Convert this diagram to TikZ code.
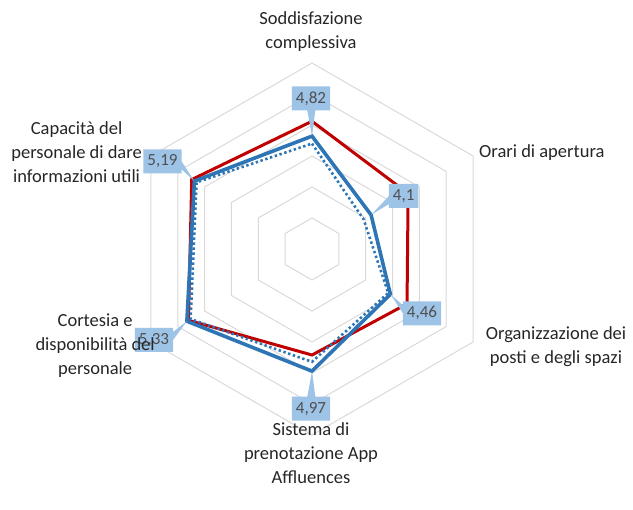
\documentclass[tikz,border=0pt]{standalone}
\usepackage{fontspec}
\setmainfont{Carlito}
\usepackage{xcolor}
\usetikzlibrary{shapes.callouts}
\definecolor{rdred}{HTML}{C00000}
\definecolor{rdblue}{HTML}{2E75B6}
\definecolor{rdbox}{HTML}{9DC3E6}
\definecolor{rdgrid}{HTML}{D9D9D9}
\definecolor{rdtext}{HTML}{262626}
\definecolor{rdval}{HTML}{4F4F4F}

\begin{document}
\begin{tikzpicture}[x=1pt,y=1pt]
        \tikzset{
        rd ring/.style={draw=rdgrid,line width=1pt},
        rd red/.style={draw=rdred,line width=3pt,line join=miter},
        rd blue/.style={draw=rdblue,line width=3.6pt,line join=miter},
        rd dots/.style={draw=rdblue,line width=2.6pt,dash pattern=on 2.4pt off 2.6pt},
        rd cat/.style={text=rdtext,align=center,inner sep=0,font=\fontsize{18.5}{24}\selectfont},
        rd val/.style={rectangle callout,fill=rdbox,text=rdval,inner xsep=4pt,inner ysep=0pt,
            minimum height=24pt,callout pointer width=8pt,
            font=\fontsize{17}{17}\selectfont}
        }
        \useasboundingbox (0,0) rectangle (633,510);
        \coordinate (O) at (312,261);

        % grid
        \foreach \r in {31,62,...,186}
            \draw[rd ring,shift={(O)}] (90:\r) -- (30:\r) -- (-30:\r) -- (-90:\r) -- (210:\r) -- (150:\r) -- cycle;

        % series points
        \begin{scope}[shift={(O)}]
        \foreach \v [count=\i] in {5.06,4.79,4.77,4.71,5.30,5.24}
            \coordinate (r\i) at ({150-60*\i}:{(\v-3)*62});
        \foreach \v [count=\i] in {4.70,3.96,4.42,4.82,5.26,5.15}
            \coordinate (d\i) at ({150-60*\i}:{(\v-3)*62});
        \foreach \v [count=\i] in {4.82,4.1,4.46,4.97,5.33,5.19}
            \coordinate (b\i) at ({150-60*\i}:{(\v-3)*62});
        \end{scope}

        \draw[rd red] (r1) -- (r2) -- (r3) -- (r4) -- (r5) -- (r6) -- cycle;
        \draw[rd dots] (d1) -- (d2) -- (d3) -- (d4) -- (d5) -- (d6) -- cycle;
        \draw[rd blue] (b1) -- (b2) -- (b3) -- (b4) -- (b5) -- (b6) -- cycle;

        % data labels
        \node[rd val,callout absolute pointer={(b1)}] (v1) at (311,411.5) {4,82};
        \node[rd val,callout absolute pointer={(b2)}] (v2) at (403.7,314) {4,1};
        \node[rd val,callout absolute pointer={(b3)}] (v3) at (422,196.7) {4,46};
        \node[rd val,callout absolute pointer={(b4)}] (v4) at (311,101.3) {4,97};
        \node[rd val,callout absolute pointer={(b5)}] (v5) at (154,170) {5,33};
        \node[rd val,callout absolute pointer={(b6)}] (v6) at (162.5,348.7) {5,19};

        % categories
        \node[rd cat] (c1) at (311,478) {Soddisfazione\\complessiva};
        \node[rd cat,anchor=west] (c2) at (479,357) {Orari di apertura};
        \node[rd cat] (c3) at (556,163) {Organizzazione dei\\posti e degli spazi};
        \node[rd cat] (c4) at (311,57) {Sistema di\\prenotazione App\\Affluences};
        \node[rd cat,anchor=east] (c5) at (155,164) {Cortesia e\\disponibilità del\\personale};
        \node[rd cat,anchor=east] (c6) at (142,357.5) {Capacità del\\personale di dare\\informazioni utili};
    \end{tikzpicture}
\end{document}
